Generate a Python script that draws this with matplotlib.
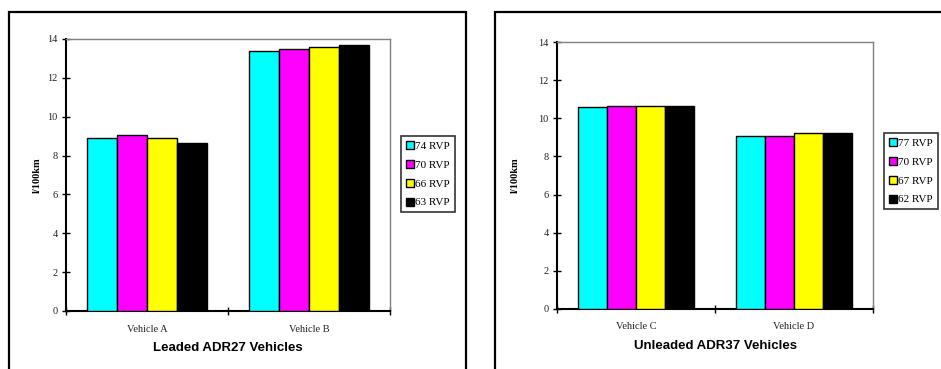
import numpy as np
import matplotlib
matplotlib.use("Agg")
from matplotlib import pyplot as plt
from matplotlib.patches import Rectangle

# data
left_cats = ["Vehicle A", "Vehicle B"]
left_series = ["74 RVP", "70 RVP", "66 RVP", "63 RVP"]
left_vals = [[8.9, 13.4],
             [9.05, 13.5],
             [8.9, 13.58],
             [8.65, 13.68]]

right_cats = ["Vehicle C", "Vehicle D"]
right_series = ["77 RVP", "70 RVP", "67 RVP", "62 RVP"]
right_vals = [[10.58, 9.07],
              [10.65, 9.07],
              [10.65, 9.21],
              [10.66, 9.25]]

colors = ["#00FFFF", "#FF00FF", "#FFFF00", "#000000"]
yticks = [0, 2, 4, 6, 8, 10, 12, 14]

W, H = 941, 369
fig = plt.figure(figsize=(W/100, H/100), dpi=100)
serif = "Liberation Serif"
sans = "Liberation Sans"

def px_axes(x0, y0, x1, y1):
    return fig.add_axes([x0/W, 1 - y1/H, (x1 - x0)/W, (y1 - y0)/H])

def panel(ax, cats, series, vals, title, leg_box, ylab_off):
    n = len(series)
    bw = 0.74/n
    x = np.arange(len(cats))
    for i in range(n):
        ax.bar(x - 0.37 + bw*(i + 0.5), vals[i], bw, color=colors[i],
               edgecolor="black", linewidth=1.0, label=series[i], zorder=3)
    ax.set_xlim(-0.5, len(cats) - 0.5)
    ax.set_ylim(0, 14)
    ax.set_yticks(yticks)
    ax.set_yticklabels([str(t) for t in yticks], fontfamily=serif, fontsize=7.5, color="#222222")
    ax.set_xticks(np.arange(len(cats) + 1) - 0.5, minor=False)
    ax.set_xticklabels([])
    for xi, c in zip(x, cats):
        ax.text(xi, -0.05, c, transform=ax.get_xaxis_transform(), ha="center",
                va="top", fontfamily=serif, fontsize=7.5, color="#222222")
    ax.tick_params(axis="both", direction="inout", length=6, width=1.0, color="black", pad=4)
    ax.tick_params(axis="y", pad=3)
    for s in ["top", "right"]:
        ax.spines[s].set_color("#808080")
        ax.spines[s].set_linewidth(1.0)
    for s in ["left", "bottom"]:
        ax.spines[s].set_color("black")
        ax.spines[s].set_linewidth(1.5)
    ax.set_ylabel("l/100km", fontfamily=serif, fontsize=7.5, fontweight="bold")
    ax.yaxis.set_label_coords(ylab_off, 0.5)
    ax.text(0.5, -0.115, title, transform=ax.transAxes, ha="center", va="top",
            fontfamily=sans, fontsize=9.5, fontweight="bold")
    lx0, ly0, lx1, ly1 = leg_box
    leg = fig.legend(loc="upper left", bbox_to_anchor=(lx0/W, 1 - ly0/H),
                     prop={"family": serif, "size": 8}, frameon=True, fancybox=False,
                     handlelength=0.75, handleheight=0.75, handletextpad=0.1,
                     labelspacing=0.8, borderpad=0.45, borderaxespad=0,
                     handles=ax.patches[::len(cats)], labels=series)
    leg.get_frame().set_edgecolor("black")
    leg.get_frame().set_linewidth(1.2)

# outer boxes
fig.patches.append(Rectangle((9/W, -0.05), (466 - 9)/W, 1.05 - 12/H, transform=fig.transFigure,
                             fill=False, edgecolor="black", linewidth=1.6))
fig.patches.append(Rectangle((495/W, -0.05), 0.5, 1.05 - 12/H, transform=fig.transFigure,
                             fill=False, edgecolor="black", linewidth=1.6))

ax1 = px_axes(66, 39, 390, 311)
panel(ax1, left_cats, left_series, left_vals, "Leaded ADR27 Vehicles", (401, 136, 456, 215), -0.076)

ax2 = px_axes(557, 42, 873, 309)
panel(ax2, right_cats, right_series, right_vals, "Unleaded ADR37 Vehicles", (884, 133, 941, 211), -0.119)

fig.savefig("out.png", dpi=100)
